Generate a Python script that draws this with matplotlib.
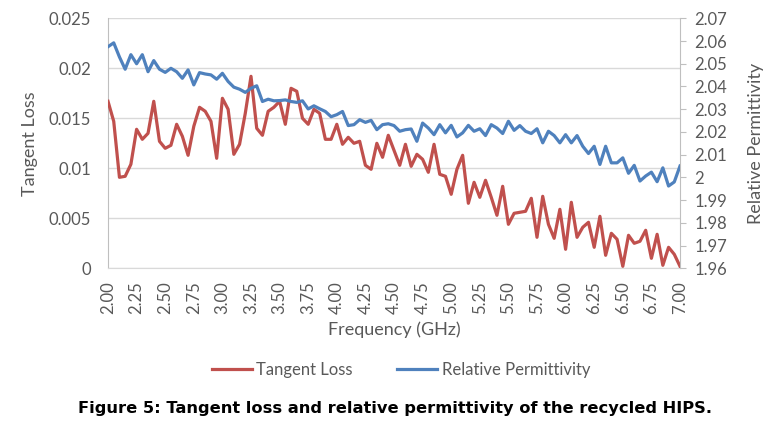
import numpy as np
import matplotlib
matplotlib.use("Agg")
import matplotlib.pyplot as plt

freq = np.round(np.arange(2.0, 7.0001, 0.05), 2)

tangent_loss = [
    0.0167, 0.0147, 0.0091, 0.0092, 0.0104, 0.0139, 0.0129, 0.0135, 0.0167, 0.0127,
    0.0120, 0.0123, 0.0144, 0.0132, 0.0113, 0.0142, 0.0161, 0.0157, 0.0147, 0.0110,
    0.0170, 0.0159, 0.0114, 0.0124, 0.0155, 0.0192, 0.0140, 0.0133, 0.0157, 0.0161,
    0.0167, 0.0144, 0.0180, 0.0177, 0.0150, 0.0144, 0.0159, 0.0155, 0.0129, 0.0129,
    0.0144, 0.0124, 0.0131, 0.0125, 0.0127, 0.0103, 0.0099, 0.0125, 0.0111, 0.0133,
    0.0118, 0.0103, 0.0124, 0.0102, 0.0114, 0.0109, 0.0096, 0.0124, 0.0094, 0.0092,
    0.0074, 0.0099, 0.0113, 0.0065, 0.0086, 0.0071, 0.0088, 0.0071, 0.0053, 0.0082,
    0.0044, 0.0055, 0.0056, 0.0057, 0.0070, 0.0031, 0.0072, 0.0044, 0.0030, 0.0059,
    0.0019, 0.0066, 0.0031, 0.0041, 0.0046, 0.0021, 0.0052, 0.0013, 0.0035, 0.0029,
    0.0002, 0.0033, 0.0025, 0.0027, 0.0038, 0.0010, 0.0034, 0.0003, 0.0021, 0.0014,
    0.0002,
]

permittivity = [
    2.0575, 2.0592, 2.0530, 2.0476, 2.0540, 2.0500, 2.0540, 2.0465, 2.0514, 2.0476,
    2.0462, 2.0480, 2.0465, 2.0436, 2.0473, 2.0407, 2.0461, 2.0455, 2.0451, 2.0432,
    2.0458, 2.0422, 2.0397, 2.0388, 2.0374, 2.0392, 2.0403, 2.0334, 2.0344, 2.0337,
    2.0338, 2.0341, 2.0334, 2.0330, 2.0337, 2.0301, 2.0315, 2.0302, 2.0290, 2.0267,
    2.0276, 2.0290, 2.0228, 2.0232, 2.0254, 2.0242, 2.0251, 2.0210, 2.0232, 2.0236,
    2.0228, 2.0203, 2.0210, 2.0213, 2.0159, 2.0239, 2.0217, 2.0188, 2.0232, 2.0196,
    2.0229, 2.0178, 2.0196, 2.0229, 2.0203, 2.0214, 2.0184, 2.0232, 2.0217, 2.0193,
    2.0247, 2.0207, 2.0228, 2.0203, 2.0193, 2.0214, 2.0152, 2.0203, 2.0184, 2.0152,
    2.0188, 2.0152, 2.0184, 2.0137, 2.0105, 2.0137, 2.0057, 2.0137, 2.0064, 2.0064,
    2.0086, 2.0018, 2.0053, 1.9984, 2.0006, 2.0023, 1.9981, 2.0042, 1.9962, 1.9980,
    2.0050,
]

x_ticks = [2.00, 2.25, 2.50, 2.75, 3.00, 3.25, 3.50, 3.75, 4.00, 4.25, 4.50,
           4.75, 5.00, 5.25, 5.50, 5.75, 6.00, 6.25, 6.50, 6.75, 7.00]
left_ticks = [0, 0.005, 0.01, 0.015, 0.02, 0.025]
left_labels = ["0", "0.005", "0.01", "0.015", "0.02", "0.025"]
right_ticks = [1.96, 1.97, 1.98, 1.99, 2.00, 2.01, 2.02, 2.03, 2.04, 2.05, 2.06, 2.07]
right_labels = ["1.96", "1.97", "1.98", "1.99", "2", "2.01", "2.02", "2.03",
                "2.04", "2.05", "2.06", "2.07"]

RED = "#C0504D"
BLUE = "#4F81BD"
TXT = "#595959"
GRID = "#D9D9D9"
FONT = "Lato"

plt.rcParams["font.family"] = [FONT, "DejaVu Sans"]

fig = plt.figure(figsize=(7.74, 4.24), dpi=100)
ax = fig.add_axes([108 / 774, 1 - 268.3 / 424, (680 - 108) / 774, (268.3 - 18.3) / 424])
ax2 = ax.twinx()

l1, = ax.plot(freq, tangent_loss, color=RED, lw=2.3, solid_joinstyle="round", zorder=3)
l2, = ax2.plot(freq, permittivity, color=BLUE, lw=2.3, solid_joinstyle="round", zorder=3)

ax.set_xlim(2.0, 7.0)
ax.set_ylim(0, 0.025)
ax2.set_ylim(1.96, 2.07)

ax.set_yticks(left_ticks)
ax.set_yticklabels(left_labels)
ax2.set_yticks(right_ticks)
ax2.set_yticklabels(right_labels)
ax.set_xticks(x_ticks)
ax.set_xticklabels([f"{v:.2f}" for v in x_ticks], rotation=90)

ax.grid(axis="y", color=GRID, lw=1.0)
ax.set_axisbelow(True)

for a in (ax, ax2):
    a.spines["top"].set_visible(False)
    a.spines["left"].set_color("#BFBFBF")
    a.spines["right"].set_color("#BFBFBF")
    a.spines["bottom"].set_color("#D9D9D9")
ax.spines["right"].set_visible(False)
ax2.spines["left"].set_visible(False)
ax2.spines["bottom"].set_visible(False)

ax.tick_params(axis="y", length=0, labelsize=12, labelcolor=TXT, pad=12)
ax.tick_params(axis="x", length=0, labelsize=12, labelcolor=TXT, pad=9)
ax2.tick_params(axis="y", length=4.5, color="#BFBFBF", labelsize=12, labelcolor=TXT, pad=6)

ax.set_ylabel("Tangent Loss", fontsize=13, color=TXT, labelpad=8)
ax2.set_ylabel("Relative Permittivity", fontsize=13, color=TXT, labelpad=15)
ax.set_xlabel("Frequency (GHz)", fontsize=13, color=TXT, labelpad=6)

leg = fig.legend([l1, l2], ["Tangent Loss", "Relative Permittivity"],
                 loc="center", bbox_to_anchor=(0.518, 1 - 370 / 424), ncol=2,
                 frameon=False, fontsize=12, handlelength=2.4, handletextpad=0.25,
                 columnspacing=2.7, labelcolor=TXT)

fig.text(0.51, 1 - 408 / 424, "Figure 5: Tangent loss and relative permittivity of the recycled HIPS.",
         ha="center", va="center", fontsize=11.7, fontweight="bold",
         family=["DejaVu Sans"], color="black")

fig.savefig("out.png", dpi=100)
